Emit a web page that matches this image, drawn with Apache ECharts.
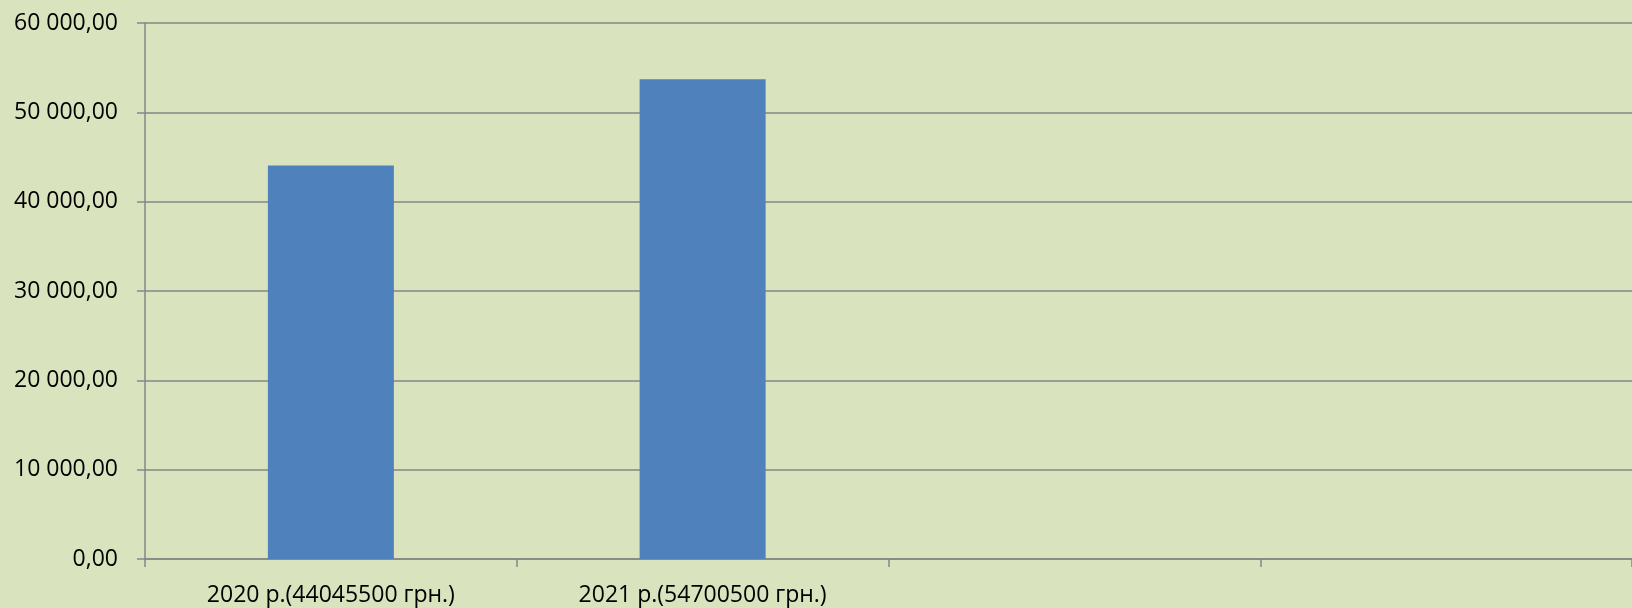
<!DOCTYPE html>
<html>
<head>
<meta charset="utf-8">
<script src="https://cdn.jsdelivr.net/npm/echarts@6/dist/echarts.min.js"></script>
<style>
html,body{margin:0;padding:0;background:#D9E4BE;}
#c{width:1632px;height:608px;}
</style>
</head>
<body>
<div id="c"></div>
<script>
const categories = ["2020 р.(44045500 грн.)", "2021 р.(54700500 грн.)", "", ""];
const values = [44045.5, 53700, null, null];
const yMin = 0, yMax = 60000, yStep = 10000;

function fmt(v){
  const s = Math.round(v).toString().replace(/\B(?=(\d{3})+(?!\d))/g, ' ');
  return s + ',00';
}

const chart = echarts.init(document.getElementById('c'), null, {renderer:'canvas'});
const axisColor = '#868686';
chart.setOption({
  backgroundColor: '#D9E4BE',
  animation: false,
  grid: {left: 145, top: 23, width: 1496, height: 536, containLabel: false},
  xAxis: {
    type: 'category',
    data: categories,
    axisLine: {show: true, lineStyle: {color: axisColor, width: 1.5}},
    axisTick: {show: true, alignWithLabel: false, length: 8, lineStyle: {color: axisColor, width: 1.5}},
    axisLabel: {color: '#000', fontFamily: 'Open Sans', fontSize: 23, margin: 25, interval: 0},
    splitLine: {show: false}
  },
  yAxis: {
    type: 'value',
    min: yMin, max: yMax, interval: yStep,
    axisLine: {show: true, lineStyle: {color: axisColor, width: 1.5}},
    axisTick: {show: true, length: 8, lineStyle: {color: axisColor, width: 1.5}},
    axisLabel: {color: '#000', fontFamily: 'Open Sans', fontSize: 23, margin: 27, formatter: fmt},
    splitLine: {show: true, lineStyle: {color: axisColor, width: 1.5}}
  },
  series: [{
    type: 'bar',
    data: values,
    barWidth: 126,
    itemStyle: {color: '#4F81BD'}
  }]
});
</script>
</body>
</html>
